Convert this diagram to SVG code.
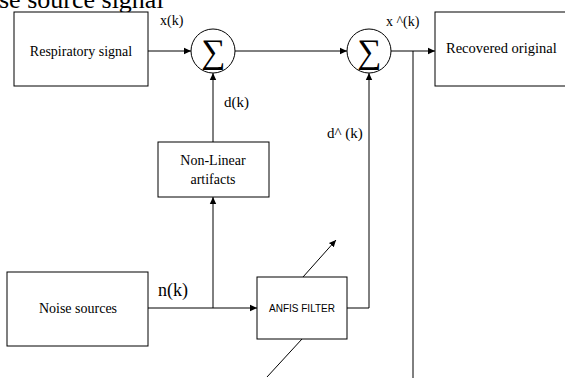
<svg xmlns="http://www.w3.org/2000/svg" width="565" height="378" viewBox="0 0 565 378">
<style>
.box{fill:#fff;stroke:#000;stroke-width:1}
.sum{fill:#fff;stroke:#000;stroke-width:1}
.ln{fill:none;stroke:#000;stroke-width:1}
.t{font-family:"Liberation Serif","Times New Roman",serif;fill:#000}
.s{font-family:"Liberation Sans",Arial,sans-serif;fill:#000}
</style>
<defs>
<marker id="ah" markerWidth="8" markerHeight="8" refX="7" refY="4" orient="auto" markerUnits="userSpaceOnUse">
<path d="M0,0.8 L7,4 L0,7.2 Z" fill="#000"/>
</marker>
</defs>
<text class="t" x="-1" y="8" font-size="26">se source signal</text>
<g id="connectors">
<line class="ln" x1="148" y1="51" x2="191" y2="51" marker-end="url(#ah)"/>
<line class="ln" x1="235" y1="51" x2="347" y2="51" marker-end="url(#ah)"/>
<line class="ln" x1="391" y1="51" x2="435" y2="51" marker-end="url(#ah)"/>
<line class="ln" x1="413" y1="51" x2="413" y2="378"/>
<line class="ln" x1="213" y1="142" x2="213" y2="73" marker-end="url(#ah)"/>
<line class="ln" x1="148" y1="308" x2="257" y2="308" marker-end="url(#ah)"/>
<line class="ln" x1="213" y1="308" x2="213" y2="197" marker-end="url(#ah)"/>
<polyline class="ln" points="347,308 369,308 369,73" marker-end="url(#ah)"/>
<line class="ln" x1="267" y1="377" x2="302" y2="339"/>
<line class="ln" x1="303" y1="277" x2="336" y2="240" marker-end="url(#ah)"/>
</g>
<g id="respiratory">
<rect class="box" x="14" y="12" width="134" height="74"/>
<text class="t" x="81" y="56" font-size="14" text-anchor="middle">Respiratory signal</text>
</g>
<g id="sum1">
<circle class="sum" cx="213" cy="51" r="22"/>
<text class="t" x="213" y="63" font-size="34" text-anchor="middle">∑</text>
</g>
<g id="sum2">
<circle class="sum" cx="369" cy="51" r="22"/>
<text class="t" x="369" y="63" font-size="34" text-anchor="middle">∑</text>
</g>
<g id="recovered">
<rect class="box" x="435" y="12" width="135" height="74"/>
<text class="t" x="446" y="53" font-size="14.5">Recovered original</text>
</g>
<g id="nonlinear">
<rect class="box" x="158" y="142" width="111" height="55"/>
<text class="t" x="213" y="165" font-size="14" text-anchor="middle">Non-Linear</text>
<text class="t" x="213" y="184" font-size="14" text-anchor="middle">artifacts</text>
</g>
<g id="noise">
<rect class="box" x="7" y="272" width="141" height="74"/>
<text class="t" x="78" y="313" font-size="14" text-anchor="middle">Noise sources</text>
</g>
<g id="anfis">
<rect class="box" x="257" y="277" width="90" height="62"/>
<text class="s" x="302" y="312" font-size="10" text-anchor="middle">ANFIS FILTER</text>
</g>
<g id="labels">
<text class="t" x="160" y="25" font-size="14">x(k)</text>
<text class="t" x="386" y="26" font-size="14">x ^(k)</text>
<text class="t" x="224" y="107" font-size="15">d(k)</text>
<text class="t" x="327" y="138" font-size="15">d^ (k)</text>
<text class="t" x="158" y="296" font-size="18">n(k)</text>
</g>
</svg>
